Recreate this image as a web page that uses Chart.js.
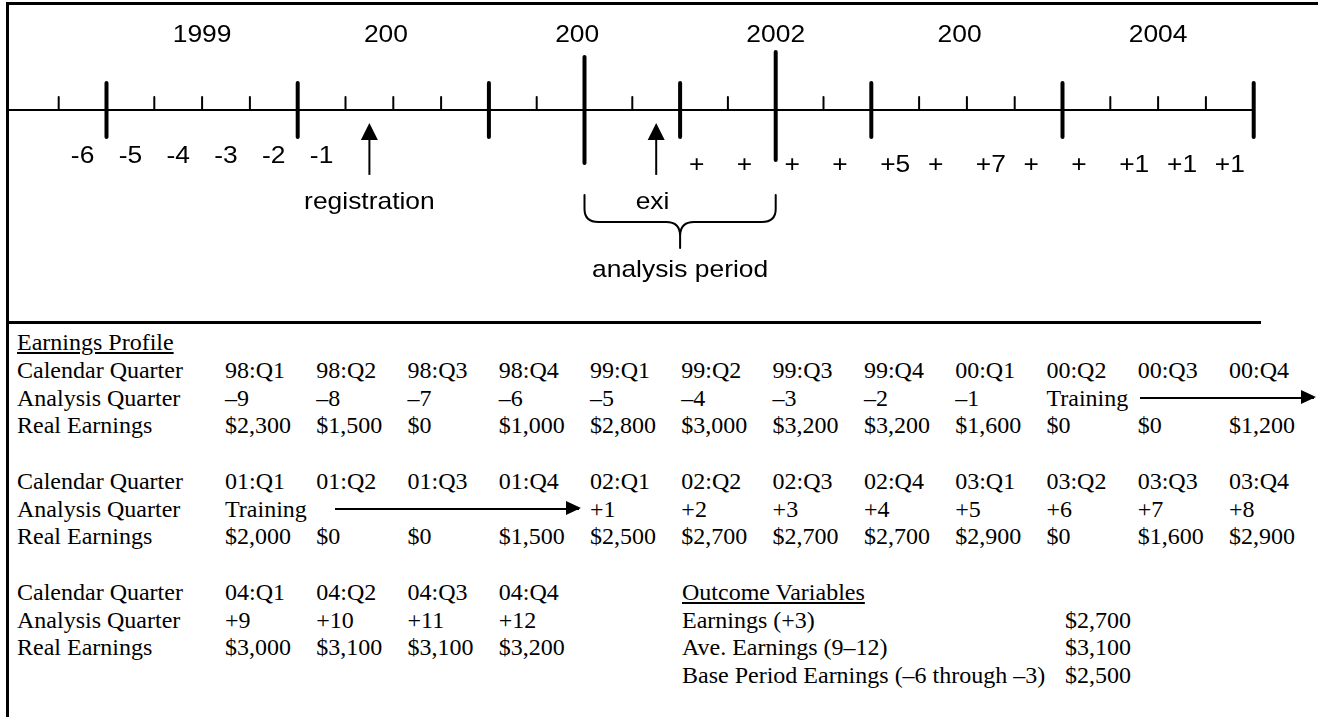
<!DOCTYPE html>
<html lang="en">
<head>
<meta charset="UTF-8">
<title>Earnings Profile Timeline</title>
<style>
  html, body { margin: 0; padding: 0; background: #fff; }
  #page { position: relative; width: 1318px; height: 717px; overflow: hidden; }
  #timeline { position: absolute; left: 0; top: 0; }
  .rule { position: absolute; background: #000; }
  .cell {
    position: absolute;
    font-family: 'Liberation Serif', 'Times New Roman', serif;
    font-size: 24px;
    line-height: 28px;
    white-space: nowrap;
    color: #000;
  }
  .u { text-decoration: underline; }
  .arrow { position: absolute; height: 2px; background: #000; }
  .arrow::after {
    content: '';
    position: absolute;
    right: -2px;
    top: -6.5px;
    border-left: 15px solid #000;
    border-top: 7.5px solid transparent;
    border-bottom: 7.5px solid transparent;
  }
</style>
</head>
<body>
<div id="page">
  <canvas id="timeline" width="1318" height="322"></canvas>
  <div class="rule" style="left:6px; top:2px; right:0; height:3px;"></div>
  <div class="rule" style="left:6px; top:2px; width:3px; bottom:0;"></div>
  <div class="rule" style="left:6px; top:321px; width:1255px; height:3px;"></div>
  <div id="table"></div>
</div>

<script src="https://cdn.jsdelivr.net/npm/chart.js"></script>
<script>
// ---- timeline data (units: quarters counted from the start of 1999) ----
const yearLabels = ['1999', '200', '200', '2002', '200', '2004'];   // clipped as in the original
const yearCenters = [2, 6, 10, 14, 18, 22];
const yearBounds = [0, 4, 8, 12, 16, 20, 24];
const quarterBounds = [-1, 1, 2, 3, 5, 6, 7, 9, 11, 13, 15, 17, 18, 19, 21, 22, 23];
const periodBounds = [10, 14];
const beforeLabels = ['-6', '-5', '-4', '-3', '-2', '-1'];
const beforeCenters = [-0.5, 0.5, 1.5, 2.5, 3.5, 4.5];
const afterLabels = ['+', '+', '+', '+', '+5', '+', '+7', '+', '+', '+1', '+1', '+1'];
const afterCenters = [12.5, 13.5, 14.5, 15.5, 16.5, 17.5, 18.5, 19.5, 20.5, 21.5, 22.5, 23.5];
const eventLabels = ['registration', 'exi'];
const eventQuarters = [5.5, 11.5];
const periodLabel = 'analysis period';
const axisRange = [-2.1, 24];

// ---- earnings profile ----
const calendarQuarters = ['98:Q1', '98:Q2', '98:Q3', '98:Q4', '99:Q1', '99:Q2', '99:Q3', '99:Q4',
  '00:Q1', '00:Q2', '00:Q3', '00:Q4', '01:Q1', '01:Q2', '01:Q3', '01:Q4',
  '02:Q1', '02:Q2', '02:Q3', '02:Q4', '03:Q1', '03:Q2', '03:Q3', '03:Q4',
  '04:Q1', '04:Q2', '04:Q3', '04:Q4'];
const analysisQuarters = ['–9', '–8', '–7', '–6', '–5', '–4', '–3', '–2', '–1', 'Training', '', '',
  'Training', '', '', '', '+1', '+2', '+3', '+4', '+5', '+6', '+7', '+8',
  '+9', '+10', '+11', '+12'];
const realEarnings = [2300, 1500, 0, 1000, 2800, 3000, 3200, 3200, 1600, 0, 0, 1200,
  2000, 0, 0, 1500, 2500, 2700, 2700, 2700, 2900, 0, 1600, 2900,
  3000, 3100, 3100, 3200];
const outcomeLabels = ['Earnings (+3)', 'Ave. Earnings (9–12)', 'Base Period Earnings (–6 through –3)'];
const outcomeValues = [2700, 3100, 2500];

const sansFont = "24px 'Liberation Sans', Arial, sans-serif";
const stretch = 1.1;   // the original lettering is a little wide

const timelinePlugin = {
  id: 'timeline',
  afterDatasetsDraw(chart) {
    const ctx = chart.ctx;
    const xs = chart.scales.x, ys = chart.scales.y;
    const px = t => xs.getPixelForValue(t);
    const y0 = ys.getPixelForValue(0);

    ctx.save();
    ctx.strokeStyle = '#000';
    ctx.fillStyle = '#000';
    ctx.lineCap = 'round';

    function tick(t, up, down, w) {
      ctx.lineWidth = w;
      ctx.beginPath();
      ctx.moveTo(px(t), y0 - up);
      ctx.lineTo(px(t), y0 + down);
      ctx.stroke();
    }
    quarterBounds.forEach(t => tick(t, 13, 0, 2));
    yearBounds.forEach(t => tick(t, 27, 27, 4));
    tick(periodBounds[0], 53, 53, 4);
    tick(periodBounds[1], 58, 50, 4);

    ctx.font = sansFont;
    ctx.textBaseline = 'alphabetic';
    const width = s => ctx.measureText(s).width * stretch;
    function text(s, x, y, align) {
      let left = x;
      if (align === 'center') left = x - width(s) / 2;
      ctx.save();
      ctx.translate(left, y);
      ctx.scale(stretch, 1);
      ctx.textAlign = 'left';
      ctx.fillText(s, 0, 0);
      ctx.restore();
    }

    // year labels (clipped text keeps the left edge of the full label)
    const yearW = width('2000');
    yearLabels.forEach((s, i) => text(s, px(yearCenters[i]) - yearW / 2, y0 - 68, 'left'));
    beforeLabels.forEach((s, i) => text(s, px(beforeCenters[i]), y0 + 53, 'center'));
    const plusW = width('+0');
    afterLabels.forEach((s, i) => text(s, px(afterCenters[i]) - plusW / 2, y0 + 62, 'left'));

    // event arrows
    eventQuarters.forEach(t => {
      const ax = px(t);
      ctx.lineWidth = 2;
      ctx.lineCap = 'butt';
      ctx.beginPath();
      ctx.moveTo(ax, y0 + 28);
      ctx.lineTo(ax, y0 + 65);
      ctx.stroke();
      ctx.beginPath();
      ctx.moveTo(ax, y0 + 13);
      ctx.lineTo(ax - 8.5, y0 + 30);
      ctx.lineTo(ax + 8.5, y0 + 30);
      ctx.closePath();
      ctx.fill();
    });
    text(eventLabels[0], px(eventQuarters[0]), y0 + 99, 'center');
    text(eventLabels[1], px(eventQuarters[1]) - width('exit') / 2, y0 + 99, 'left');

    // brace under the analysis period
    const xl = px(periodBounds[0]), xr = px(periodBounds[1]), xc = (xl + xr) / 2;
    const yt = y0 + 85, ym = y0 + 112, yb = y0 + 138;
    ctx.lineWidth = 2;
    ctx.lineCap = 'round';
    ctx.beginPath();
    ctx.moveTo(xl, yt);
    ctx.lineTo(xl, ym - 13);
    ctx.quadraticCurveTo(xl, ym, xl + 14, ym);
    ctx.lineTo(xc - 14, ym);
    ctx.quadraticCurveTo(xc, ym, xc, ym + 14);
    ctx.lineTo(xc, yb);
    ctx.moveTo(xr, yt);
    ctx.lineTo(xr, ym - 13);
    ctx.quadraticCurveTo(xr, ym, xr - 14, ym);
    ctx.lineTo(xc + 14, ym);
    ctx.quadraticCurveTo(xc, ym, xc, ym + 14);
    ctx.stroke();

    text(periodLabel, xc, y0 + 167, 'center');
    ctx.restore();
  }
};

new Chart(document.getElementById('timeline'), {
  type: 'scatter',
  data: {
    datasets: [{
      data: axisRange.map(t => ({ x: t, y: 0 })),
      showLine: true,
      borderColor: '#000',
      borderWidth: 2,
      pointRadius: 0
    }]
  },
  options: {
    responsive: false,
    animation: false,
    events: [],
    layout: { padding: 0 },
    plugins: { legend: { display: false }, tooltip: { enabled: false } },
    scales: {
      x: { type: 'linear', display: false, min: -2.228, max: 25.345 },
      y: { display: false, min: -1.93, max: 1 }
    }
  },
  plugins: [timelinePlugin]
});

// ---- table below the timeline ----
const table = document.getElementById('table');
const rowTop = r => 342 + r * 27.75 - 14;
const colLeft = c => 225 + c * 91.27;
const money = v => '$' + v.toLocaleString('en-US');

function cell(text, left, r, cls) {
  const d = document.createElement('div');
  d.className = 'cell' + (cls ? ' ' + cls : '');
  d.style.left = left + 'px';
  d.style.top = rowTop(r) + 'px';
  d.textContent = text;
  table.appendChild(d);
}
function arrow(left, right, r) {
  const d = document.createElement('div');
  d.className = 'arrow';
  d.style.left = left + 'px';
  d.style.width = (right - left) + 'px';
  d.style.top = (rowTop(r) + 13) + 'px';
  table.appendChild(d);
}

cell('Earnings Profile', 17, 0, 'u');
[0, 1, 2].forEach(b => {
  const r = 1 + b * 4;
  cell('Calendar Quarter', 17, r);
  cell('Analysis Quarter', 17, r + 1);
  cell('Real Earnings', 17, r + 2);
  for (let c = 0; c < 12; c++) {
    const i = b * 12 + c;
    if (i >= calendarQuarters.length) break;
    cell(calendarQuarters[i], colLeft(c), r);
    if (analysisQuarters[i]) cell(analysisQuarters[i], colLeft(c), r + 1);
    cell(money(realEarnings[i]), colLeft(c), r + 2);
  }
});
arrow(colLeft(9) + 94, 1314, 2);
arrow(colLeft(0) + 110, colLeft(4) - 11, 6);

cell('Outcome Variables', 682, 9, 'u');
outcomeLabels.forEach((s, i) => {
  cell(s, 682, 10 + i);
  cell(money(outcomeValues[i]), 1065, 10 + i);
});
</script>
</body>
</html>
